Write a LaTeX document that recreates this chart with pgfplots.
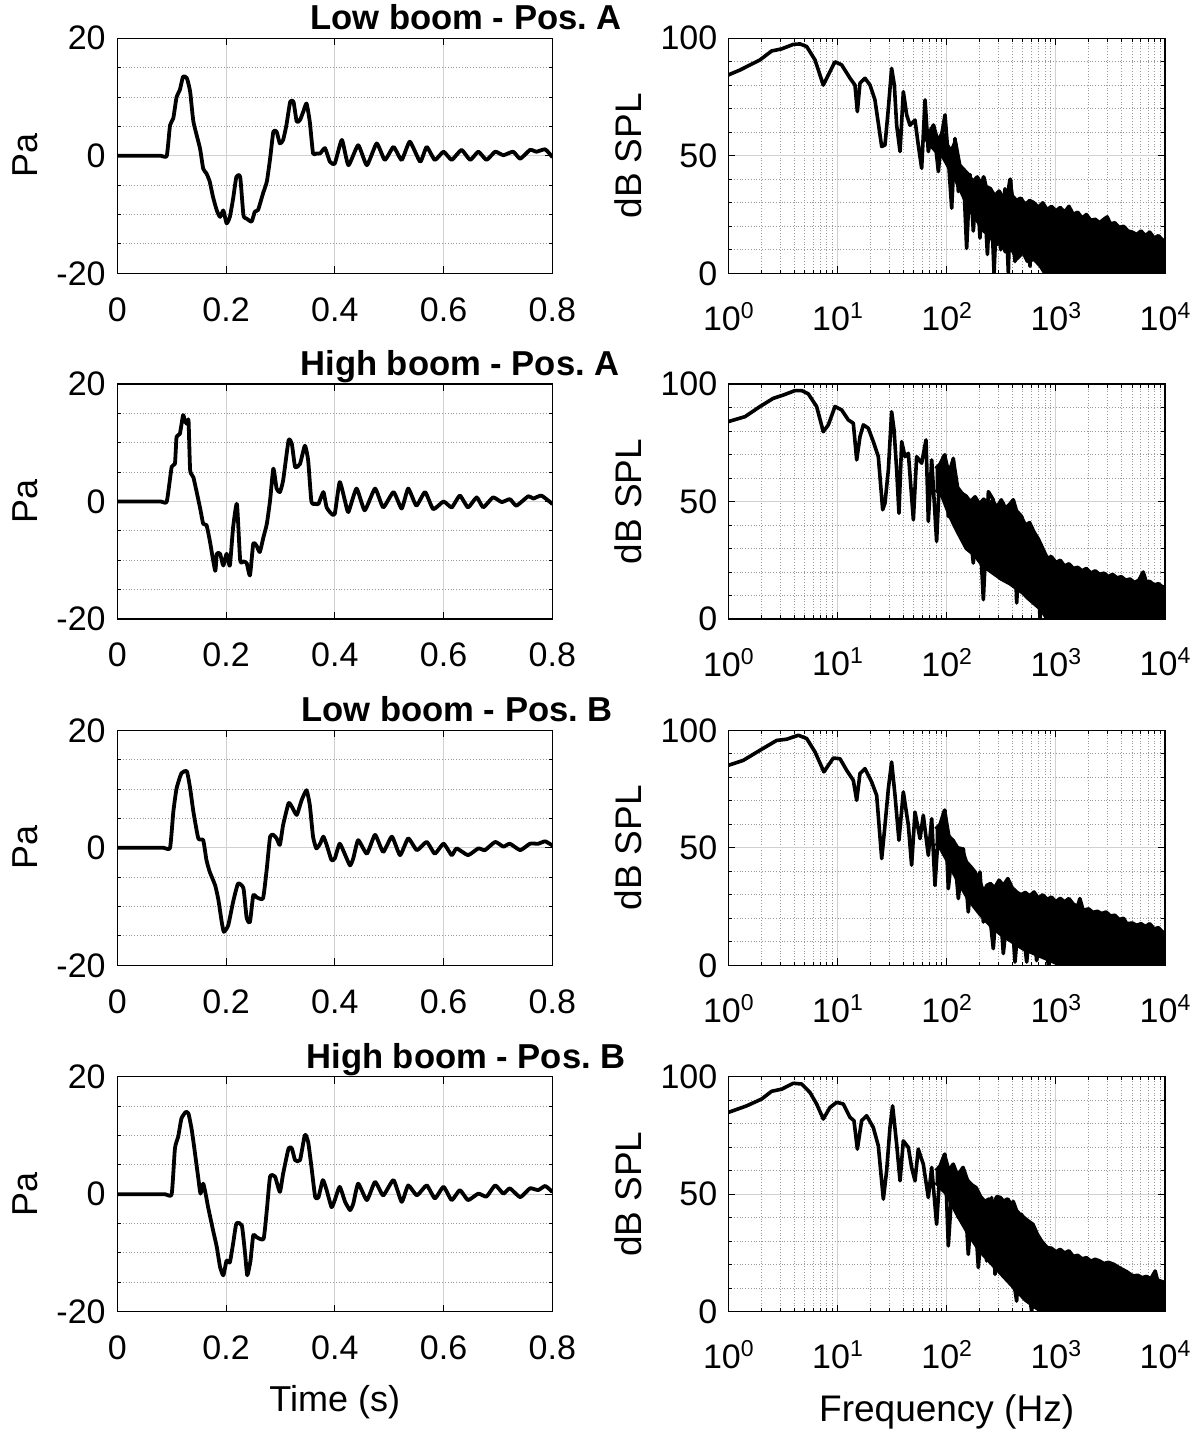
\documentclass[border=0pt]{standalone}
\usepackage{fontspec}
\setmainfont{Liberation Sans}
\usepackage{pgfplots}
\pgfplotsset{compat=1.18}
\usepackage{pgfplotstable}
\frenchspacing

\newcommand{\ex}[1]{\raisebox{6pt}{\fontsize{11.5}{12}\selectfont #1}}

% ---------- spectra: line parts (lf = log10 of frequency in Hz) ----------
\pgfplotstableread{
lf db
0.000 84.4
0.107 86.5
0.290 90.8
0.397 94.6
0.489 95.5
0.595 97.4
0.656 97.6
0.718 96.5
0.794 90.8
0.870 80.1
0.916 84.4
0.977 90.0
1.038 88.7
1.115 83.0
1.160 80.1
1.182 68.8
1.206 80.9
1.252 83.0
1.298 80.1
1.343 73.8
1.405 53.9
1.435 54.6
1.466 70.2
1.496 87.2
1.521 80.0
1.542 63.0
1.573 51.8
1.603 77.3
1.634 67.4
1.664 63.0
1.710 65.2
1.740 54.6
1.771 44.7
1.802 73.8
1.832 51.8
1.878 63.1
1.924 43.3
1.954 58.9
1.985 67.4
2.015 49.0
2.046 27.7
2.076 57.4
2.107 34.8
2.153 43.0
2.183 10.6
2.214 42
2.244 18
2.275 40
2.305 15
2.336 41
2.373 8
2.403 36
2.434 0
2.464 34
2.495 10
2.534 36
2.565 0
2.586 40
2.626 5
2.656 31
2.687 10
2.727 30
2.763 3
2.794 30
2.840 8
2.870 29
2.901 0
}\SA

\pgfplotstableread{
lf db
0.000 84.0
0.153 86.1
0.290 90.4
0.412 93.9
0.504 95.3
0.611 97.2
0.672 97.2
0.733 95.8
0.809 90.4
0.870 79.7
0.916 82.6
0.977 90.4
1.038 89.0
1.099 84.7
1.145 83.3
1.176 67.7
1.206 77.6
1.237 82.6
1.282 81.2
1.328 75.5
1.374 69.1
1.414 46.5
1.435 49.3
1.466 63.5
1.496 88.2
1.518 80.5
1.542 63.5
1.563 45.0
1.588 75.5
1.618 69.1
1.649 70.5
1.695 42.2
1.725 69.1
1.771 66.3
1.811 76.2
1.832 41.5
1.863 67.7
1.908 33.0
1.939 64.9
1.985 69.8
2.015 43.6
2.061 68.4
2.092 40.1
2.137 53.5
2.183 52.1
2.244 23.8
2.290 49.3
2.336 8.2
2.382 54.2
2.427 50.7
2.473 21.0
2.519 49.3
2.565 18.1
2.611 50.7
2.641 6.8
2.687 43.6
2.748 21.0
2.794 6.8
2.824 35.1
2.855 0
2.885 26.6
2.916 0
}\SB

\pgfplotstableread{
lf db
0.000 85.1
0.137 87.2
0.290 91.5
0.443 95.7
0.534 96.2
0.641 97.9
0.718 96.5
0.794 90.8
0.876 82.3
0.916 85.1
0.962 88.2
1.023 87.9
1.084 83.0
1.145 78.7
1.176 70.2
1.206 81.6
1.252 83.7
1.313 78.0
1.359 72.3
1.405 45.4
1.435 59.6
1.466 75.2
1.496 86.5
1.527 72.3
1.563 53.2
1.603 73.8
1.649 59.6
1.679 42.6
1.710 65.2
1.756 53.9
1.786 63.8
1.832 46.8
1.863 62.4
1.893 34.0
1.924 56.7
1.954 49.6
1.985 66.0
2.015 32.6
2.061 53.2
2.107 28.4
2.153 49.6
2.198 22.7
2.229 41.1
2.269 27.0
2.305 39.7
2.336 18.4
2.366 34.0
2.427 7.1
2.473 35.5
2.519 5.0
2.580 34.0
2.626 1.4
2.672 27.0
2.733 1.4
2.779 25
2.824 2
2.885 22
2.931 0
3.008 20
3.069 0
}\SC

\pgfplotstableread{
lf db
0.000 84.8
0.168 87.6
0.305 90.5
0.397 93.8
0.489 94.7
0.595 97.2
0.672 96.9
0.748 93.3
0.809 88.4
0.870 82.0
0.931 86.9
0.992 89.1
1.053 88.4
1.115 82.7
1.151 81.3
1.182 69.2
1.221 81.3
1.267 83.4
1.328 78.4
1.374 70.6
1.420 47.9
1.450 59.9
1.481 78.4
1.505 87.6
1.542 71.3
1.573 55.7
1.603 72.7
1.649 69.9
1.679 61.4
1.710 55.7
1.740 69.2
1.786 62.8
1.832 48.6
1.863 61.4
1.908 37.2
1.939 59.9
1.985 67.0
2.015 28.0
2.061 61.4
2.107 40.1
2.153 60.7
2.198 24.4
2.244 52.8
2.290 18.8
2.336 45.5
2.366 21.6
2.412 48.6
2.443 15.9
2.489 48.6
2.550 45.5
2.595 18.8
2.641 4.5
2.687 41.5
2.733 15.9
2.779 0
2.824 27.3
2.870 0
}\SD

% ---------- spectra: dense bands (upper edge, then lower edge back) ----------
\pgfplotstableread{
lf db
1.80 62
1.84 60
1.88 63
1.92 56
1.96 60
2.00 55
2.04 52
2.08 56
2.12 46
2.16 44
2.20 42
2.24 39
2.28 41
2.32 38
2.34 41
2.36 37
2.40 36
2.44 33
2.48 35
2.52 32
2.56 34
2.58 40
2.60 33
2.64 31
2.68 32
2.72 29
2.76 31
2.80 30
2.84 28
2.88 30
2.92 27
2.96 28.5
3.00 26.5
3.04 28
3.08 26
3.12 28.5
3.16 25
3.20 26
3.24 23.5
3.28 25
3.32 22.5
3.36 23
3.40 21.5
3.44 23
3.47 24
3.50 21
3.54 21.5
3.58 19.5
3.62 20
3.66 18
3.70 17.5
3.74 16.5
3.78 18
3.82 16
3.86 17.5
3.90 15
3.94 16
3.98 14
4.00 14.2
4.00 0
2.90 0
2.86 3
2.80 6
2.74 5
2.70 9
2.64 6
2.60 10
2.54 9
2.50 13
2.44 12
2.40 16
2.34 18
2.30 21
2.24 25
2.20 28
2.14 34
2.08 40
2.02 45
1.96 50
1.90 52
1.84 55
1.80 58
}\FA

\pgfplotstableread{
lf db
1.90 64
1.94 66
1.98 69.8
2.02 62
2.06 68
2.10 56
2.14 53.5
2.18 52
2.22 50
2.26 52
2.30 49
2.34 51
2.38 48
2.42 50.5
2.46 47.5
2.50 50.7
2.54 47
2.58 49
2.61 50.7
2.64 46
2.68 44
2.72 40
2.76 41
2.80 37
2.84 34
2.88 30
2.92 26
2.96 26.5
3.00 24
3.04 25
3.08 22.5
3.12 23.5
3.16 21.5
3.20 22
3.24 20.5
3.28 21.5
3.32 19.5
3.36 20.5
3.40 19
3.44 19.5
3.48 18
3.52 19
3.56 17.5
3.60 18
3.64 16.5
3.68 17
3.72 15.5
3.76 16.5
3.80 20
3.83 15.5
3.86 16
3.90 14.5
3.94 15
3.98 13.5
4.00 13.9
4.00 0
2.92 0
2.88 3
2.84 5
2.79 7
2.74 9
2.70 11
2.64 13
2.58 15
2.50 17
2.44 19
2.38 21
2.34 22
2.26 27
2.18 30
2.10 37
2.03 43.6
1.96 52
1.90 55
}\FB

\pgfplotstableread{
lf db
1.90 58
1.94 60
1.98 66
2.02 55
2.06 53
2.10 50
2.14 49.6
2.18 44
2.22 42
2.26 39.7
2.30 36
2.34 31.2
2.37 34
2.40 34.8
2.44 33
2.48 36.2
2.52 34
2.56 36.9
2.60 33
2.64 31.2
2.68 30
2.72 31
2.76 29.5
2.80 31.2
2.84 28.5
2.88 30
2.92 28
2.96 29
3.00 27
3.04 28.5
3.08 27
3.12 28.4
3.16 26
3.20 25
3.22 28.4
3.25 23.4
3.30 24
3.34 22.5
3.38 23
3.42 22
3.46 22.7
3.50 21
3.54 21.3
3.58 19.5
3.62 20
3.65 17.7
3.70 18
3.74 17
3.78 17.7
3.82 16.5
3.86 17.7
3.90 15.5
3.94 16
3.98 14
4.00 14.2
4.00 0
3.10 0
3.00 1
2.90 3
2.80 5
2.70 7
2.60 10
2.50 13
2.40 17
2.30 22
2.20 28
2.10 36
2.00 45
1.94 50
1.90 52
}\FC

\pgfplotstableread{
lf db
1.90 60
1.94 62
1.98 67
2.02 60
2.06 62.8
2.10 58
2.15 61.4
2.19 56
2.23 54
2.27 52.8
2.31 49
2.35 46.9
2.39 48
2.43 46
2.46 49
2.49 48.6
2.52 47
2.56 48
2.59 45.5
2.61 46.9
2.64 43
2.67 41.5
2.71 40
2.75 38.5
2.79 37.2
2.83 33
2.87 30
2.92 27.3
2.96 27
3.00 25.5
3.04 26.5
3.08 25
3.12 25.9
3.16 23.5
3.20 24
3.24 22.5
3.28 23
3.32 21.5
3.36 22.3
3.40 21.6
3.44 20.5
3.48 21
3.53 20.2
3.57 19
3.61 18
3.65 17
3.68 16
3.71 15.2
3.75 15.5
3.79 14.5
3.83 15
3.87 14
3.91 17.3
3.93 13.5
3.96 13
4.00 12.4
4.00 0
2.90 0
2.84 1
2.78 3
2.72 5
2.66 8
2.60 11
2.54 14
2.48 17
2.40 21
2.30 26
2.20 33
2.10 41
2.00 50
1.94 53
1.90 55
}\FD

\pgfplotsset{
  baseax/.style={
    scale only axis,
    axis line style={black, line width=0.6pt},
    tick style={black, line width=0.5pt},
    tick align=inside,
    tick pos=both,
    ticklabel pos=left,
    major tick length=3.5pt,
    minor tick length=1.8pt,
    tick label style={font=\fontsize{17}{20}\selectfont},
    major grid style={solid, black!18, line width=0.5pt},
    minor grid style={densely dotted, black!40, line width=0.5pt},
    anchor=north west,
  },
  timeax/.style={
    baseax,
    width=217.5pt, height=117.5pt,
    xmin=0, xmax=0.8, ymin=-20, ymax=20,
    xtick={0,0.2,0.4,0.6,0.8}, xticklabels={0,0.2,0.4,0.6,0.8},
    ytick={-20,0,20}, yticklabels={-20,0,20},
    minor ytick={-15,-10,-5,5,10,15},
    xmajorgrids, ymajorgrids, yminorgrids,
    ylabel={Pa},
    every axis y label/.style={at={(axis description cs:-0.212,0.5)}, rotate=90, anchor=center, font=\fontsize{18}{22}\selectfont},
    every axis x label/.style={at={(axis description cs:0.5,0)}, anchor=base, yshift=-50pt, font=\fontsize{18}{22}\selectfont},
    xticklabel style={yshift=-8.5pt},
    yticklabel style={xshift=-2.3pt},
  },
  specax/.style={
    baseax,
    width=218.35pt, height=117.5pt,
    xmin=1, xmax=10000, ymin=0, ymax=100,
    xtick={1,10,100,1000,10000},
    xticklabels={10\ex{0},10\ex{1},10\ex{2},10\ex{3},10\ex{4}},
    minor xtick={2,3,4,5,6,7,8,9,20,30,40,50,60,70,80,90,200,300,400,500,600,700,800,900,2000,3000,4000,5000,6000,7000,8000,9000},
    ytick={0,50,100}, yticklabels={0,50,100},
    minor ytick={10,20,30,40,60,70,80,90},
    xmajorgrids, ymajorgrids, xminorgrids, yminorgrids,
    ylabel={dB SPL},
    every axis y label/.style={at={(axis description cs:-0.2297,0.5)}, rotate=90, anchor=center, font=\fontsize{18.5}{22}\selectfont},
    every axis x label/.style={at={(axis description cs:0.5,0)}, anchor=base, yshift=-55pt, font=\fontsize{18.5}{22}\selectfont},
    xticklabel style={yshift=-11pt},
    yticklabel style={xshift=-2pt},
  },
  sig/.style={black, line width=1.9pt, line join=round, line cap=round, smooth, tension=0.3},
  spec/.style={black, line width=1.8pt, line join=round},
}

\begin{document}
\begin{tikzpicture}
\path[use as bounding box] (0,0) rectangle (600pt,-716.5pt);

\begin{scope}[font=\bfseries\fontsize{17.3}{20}\selectfont]
\node[anchor=base] at (233pt,-14.85pt) {Low boom - Pos. A};
\node[anchor=base] at (230pt,-187.7pt) {High boom - Pos. A};
\node[anchor=base] at (228.5pt,-360.85pt) {Low boom - Pos. B};
\node[anchor=base] at (233pt,-534.05pt) {High boom - Pos. B};
\end{scope}

% ================= Row 1 =================
\begin{axis}[timeax, at={(58.65pt,-19.15pt)}]
\addplot[sig] coordinates {
(0,0) (0.04,0) (0.08,0) (0.091,0) (0.097,5.2) (0.103,6.4) (0.109,10.0) (0.115,11.2) (0.121,13.5)
(0.128,13.2) (0.134,10.9) (0.140,5.8) (0.152,1.3) (0.158,-2.2) (0.164,-3.0)
(0.170,-4.4) (0.176,-7.0) (0.183,-9.3) (0.189,-10.4) (0.195,-9.3) (0.201,-11.5)
(0.207,-10.4) (0.213,-7.3) (0.219,-3.6) (0.226,-3.6) (0.232,-10.1) (0.238,-10.7)
(0.247,-11.2) (0.253,-9.5) (0.259,-9.2) (0.268,-6.4) (0.275,-4.4) (0.281,-0.5)
(0.287,4.1) (0.293,4.1) (0.299,2.1) (0.305,2.7) (0.311,5.2) (0.318,9.2)
(0.324,9.2) (0.330,5.8) (0.336,6.1) (0.342,7.5) (0.348,8.9) (0.354,5.8)
(0.360,0.4) (0.366,0.4) (0.373,0.4) (0.382,1.3) (0.391,-1.0) (0.400,-1.3)
(0.413,2.7) (0.425,-1.6) (0.443,1.8) (0.459,-1.6) (0.477,2.1) (0.492,-0.7)
(0.508,1.5) (0.523,-0.7) (0.538,2.4) (0.557,-1.0) (0.569,1.5) (0.584,-0.7)
(0.600,0.7) (0.615,-0.7) (0.633,1.0) (0.649,-0.7) (0.664,0.7) (0.679,-0.7)
(0.695,0.7) (0.710,0.1) (0.728,0.7) (0.741,-0.5) (0.759,1.0) (0.771,0.7)
(0.787,1.1) (0.800,-0.2)
};
\end{axis}
\begin{axis}[xmode=log, specax, at={(364.15pt,-19.15pt)}]
\addplot[spec, fill=black] table[x expr=10^\thisrow{lf}, y=db] {\FA};
\addplot[spec] table[x expr=10^\thisrow{lf}, y=db] {\SA};
\end{axis}

% ================= Row 2 =================
\begin{axis}[timeax, at={(58.65pt,-192pt)}]
\addplot[sig] coordinates {
(0,0) (0.04,0) (0.08,0) (0.091,0) (0.100,5.9) (0.106,6.4) (0.109,11.0) (0.115,11.5) (0.121,14.7)
(0.124,13.8) (0.128,13.2) (0.131,13.8) (0.134,5.3) (0.140,4.1) (0.152,-1.0)
(0.158,-3.8) (0.164,-4.0) (0.170,-6.6) (0.180,-11.8) (0.183,-8.9) (0.189,-8.9)
(0.195,-10.9) (0.201,-8.9) (0.207,-10.9) (0.213,-4.4) (0.220,-0.4) (0.226,-10.0)
(0.232,-10.2) (0.238,-10.5) (0.244,-12.6) (0.250,-7.2) (0.256,-7.5) (0.262,-8.6)
(0.269,-6.0) (0.275,-3.8) (0.281,0.2) (0.287,5.6) (0.293,2.2) (0.299,1.6)
(0.305,3.6) (0.315,10.4) (0.321,9.8) (0.327,5.9) (0.336,6.4) (0.345,9.5)
(0.351,7.0) (0.357,0.0) (0.364,-0.4) (0.370,-0.4) (0.379,1.6) (0.385,-1.0)
(0.394,-2.1) (0.400,-2.1) (0.409,3.3) (0.419,0.0) (0.425,-1.8) (0.440,2.2)
(0.455,-1.5) (0.474,2.2) (0.489,-1.0) (0.508,1.6) (0.523,-1.2) (0.535,2.2)
(0.550,-0.7) (0.566,1.6) (0.581,-1.3) (0.600,0.0) (0.615,-1.0) (0.630,1.0)
(0.645,-1.0) (0.661,0.7) (0.673,-1.0) (0.691,0.7) (0.707,-0.1) (0.722,0.4)
(0.734,-0.7) (0.756,0.9) (0.765,0.5) (0.780,1.0) (0.800,-0.4)
};
\end{axis}
\begin{axis}[xmode=log, specax, at={(364.15pt,-192pt)}]
\addplot[spec, fill=black] table[x expr=10^\thisrow{lf}, y=db] {\FB};
\addplot[spec] table[x expr=10^\thisrow{lf}, y=db] {\SB};
\end{axis}

% ================= Row 3 =================
\begin{axis}[timeax, at={(58.65pt,-365.15pt)}]
\addplot[sig] coordinates {
(0,0) (0.04,0) (0.085,0) (0.097,0) (0.103,6.1) (0.109,10.1) (0.118,12.7) (0.128,13.0) (0.134,10.1)
(0.140,6.1) (0.149,1.6) (0.158,1.3) (0.164,-2.1) (0.170,-4.1) (0.180,-6.4)
(0.186,-8.9) (0.192,-12.6) (0.196,-14.3) (0.204,-13.2) (0.213,-9.2) (0.222,-6.1)
(0.232,-6.9) (0.238,-12.0) (0.244,-12.6) (0.250,-8.1) (0.256,-8.4) (0.268,-8.6)
(0.275,-3.5) (0.281,1.9) (0.287,2.2) (0.293,1.6) (0.299,0.5) (0.305,3.9)
(0.315,7.6) (0.321,7.0) (0.330,5.6) (0.339,8.1) (0.348,9.8) (0.354,7.3)
(0.360,1.9) (0.366,-0.1) (0.373,0.7) (0.379,1.9) (0.385,0.5) (0.394,-2.1)
(0.400,-1.8) (0.409,0.7) (0.419,-1.2) (0.428,-3.0) (0.434,-1.8) (0.443,1.3)
(0.459,-1.0) (0.474,2.2) (0.489,-0.7) (0.505,1.9) (0.520,-1.25) (0.535,1.6)
(0.551,-0.4) (0.569,1.0) (0.584,-1.0) (0.600,0.7) (0.615,-1.25) (0.624,-0.1)
(0.645,-1.25) (0.664,-0.1) (0.676,-0.4) (0.695,1.0) (0.710,0.2) (0.722,0.7)
(0.741,-0.4) (0.759,0.7) (0.774,0.7) (0.787,1.1) (0.800,0.4)
};
\end{axis}
\begin{axis}[xmode=log, specax, at={(364.15pt,-365.15pt)}]
\addplot[spec, fill=black] table[x expr=10^\thisrow{lf}, y=db] {\FC};
\addplot[spec] table[x expr=10^\thisrow{lf}, y=db] {\SC};
\end{axis}

% ================= Row 4 =================
\begin{axis}[timeax, at={(58.65pt,-538.35pt)}, xlabel={Time (s)}]
\addplot[sig] coordinates {
(0,0) (0.04,0) (0.088,0) (0.100,0) (0.106,7.8) (0.112,9.8) (0.118,12.9) (0.126,14.0) (0.131,13.7)
(0.137,10.9) (0.143,6.9) (0.149,2.7) (0.153,0.1) (0.158,1.8) (0.163,-0.2)
(0.167,-2.2) (0.176,-6.1) (0.183,-9.0) (0.189,-12.4) (0.195,-13.8) (0.201,-11.3)
(0.207,-11.6) (0.213,-8.4) (0.219,-5.0) (0.229,-5.3) (0.235,-10.1) (0.239,-13.8)
(0.245,-11.3) (0.250,-7.0) (0.256,-7.3) (0.269,-7.6) (0.275,-2.7) (0.281,3.0)
(0.290,3.0) (0.299,0.4) (0.305,3.5) (0.315,7.8) (0.321,7.8) (0.327,5.8)
(0.336,5.8) (0.345,10.1) (0.351,8.9) (0.357,4.7) (0.364,-0.5) (0.370,-0.5)
(0.378,2.4) (0.385,0.7) (0.394,-2.2) (0.400,-1.0) (0.409,1.25) (0.419,-1.3)
(0.428,-2.7) (0.434,-1.6) (0.443,1.8) (0.459,-1.0) (0.474,2.1) (0.489,-0.2)
(0.508,2.4) (0.523,-1.3) (0.535,1.5) (0.551,-0.2) (0.569,1.5) (0.584,-0.7)
(0.600,1.25) (0.615,-1.0) (0.630,0.7) (0.645,-1.0) (0.664,0.1) (0.679,-0.4)
(0.695,1.5) (0.710,0.1) (0.722,1.0) (0.741,-0.5) (0.759,1.0) (0.774,0.7)
(0.787,1.4) (0.800,0.4)
};
\end{axis}
\begin{axis}[xmode=log, specax, at={(364.15pt,-538.35pt)}, xlabel={Frequency (Hz)}]
\addplot[spec, fill=black] table[x expr=10^\thisrow{lf}, y=db] {\FD};
\addplot[spec] table[x expr=10^\thisrow{lf}, y=db] {\SD};
\end{axis}

\end{tikzpicture}
\end{document}
